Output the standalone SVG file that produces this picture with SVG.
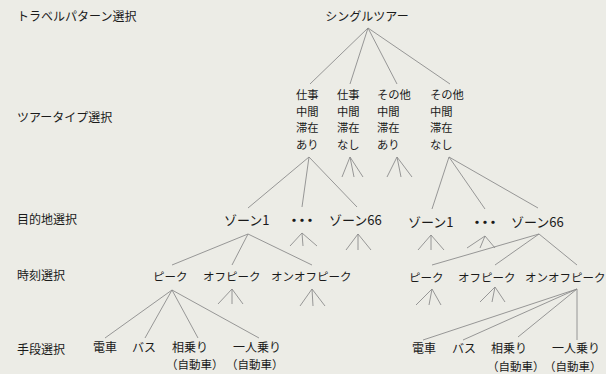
<svg xmlns="http://www.w3.org/2000/svg" width="606" height="374" viewBox="0 0 606 374">
<style>
text{font-family:"Noto Sans CJK JP","Noto Sans",sans-serif;fill:#1a1a1a;font-size:12px}
.z{font-size:13px}
.t{font-size:11.5px}
.tt{font-size:11.3px}
.p{font-size:11.5px}
.dots{font-size:13px;letter-spacing:-5px;font-weight:bold}
#edges line{stroke:#8c8c8c;stroke-width:0.9}
</style>
<rect width="606" height="374" fill="#ececE6"/>
<g id="labels">
<text x="17" y="21">トラベルパターン選択</text>
<text x="17" y="122">ツアータイプ選択</text>
<text x="17" y="224">目的地選択</text>
<text x="17" y="280">時刻選択</text>
<text x="17" y="354">手段選択</text>
</g>
<g id="edges">
<line x1="368" y1="28" x2="310" y2="84"/>
<line x1="368" y1="28" x2="350" y2="84"/>
<line x1="368" y1="28" x2="397" y2="84"/>
<line x1="368" y1="28" x2="450" y2="84"/>
<line x1="309" y1="157" x2="248" y2="208"/>
<line x1="309" y1="157" x2="302" y2="207"/>
<line x1="309" y1="157" x2="357" y2="207"/>
<line x1="350" y1="157" x2="342" y2="177"/>
<line x1="350" y1="157" x2="354" y2="177"/>
<line x1="350" y1="157" x2="363" y2="177"/>
<line x1="397" y1="157" x2="387" y2="177"/>
<line x1="397" y1="157" x2="401" y2="177"/>
<line x1="397" y1="157" x2="412" y2="177"/>
<line x1="449" y1="157" x2="432" y2="209"/>
<line x1="449" y1="157" x2="485" y2="209"/>
<line x1="449" y1="157" x2="538" y2="208"/>
<line x1="248" y1="234" x2="172" y2="265"/>
<line x1="248" y1="234" x2="232" y2="265"/>
<line x1="248" y1="234" x2="312" y2="265"/>
<line x1="302" y1="233" x2="290" y2="246"/>
<line x1="302" y1="233" x2="303" y2="246"/>
<line x1="302" y1="233" x2="317" y2="246"/>
<line x1="358" y1="234" x2="346" y2="250"/>
<line x1="358" y1="234" x2="358" y2="250"/>
<line x1="358" y1="234" x2="371" y2="250"/>
<line x1="431" y1="235" x2="418" y2="250"/>
<line x1="431" y1="235" x2="431" y2="250"/>
<line x1="431" y1="235" x2="444" y2="250"/>
<line x1="485" y1="236" x2="467" y2="248"/>
<line x1="485" y1="236" x2="480" y2="248"/>
<line x1="485" y1="236" x2="495" y2="248"/>
<line x1="539" y1="234" x2="432" y2="265"/>
<line x1="539" y1="234" x2="495" y2="265"/>
<line x1="539" y1="234" x2="577" y2="265"/>
<line x1="172" y1="290" x2="105" y2="338"/>
<line x1="172" y1="290" x2="145" y2="338"/>
<line x1="172" y1="290" x2="198" y2="338"/>
<line x1="172" y1="290" x2="259" y2="338"/>
<line x1="232" y1="289" x2="218" y2="304"/>
<line x1="232" y1="289" x2="232" y2="304"/>
<line x1="232" y1="289" x2="243" y2="304"/>
<line x1="312" y1="289" x2="300" y2="306"/>
<line x1="312" y1="289" x2="313" y2="306"/>
<line x1="312" y1="289" x2="325" y2="306"/>
<line x1="432" y1="289" x2="416" y2="305"/>
<line x1="432" y1="289" x2="429" y2="305"/>
<line x1="432" y1="289" x2="441" y2="305"/>
<line x1="495" y1="287" x2="480" y2="302"/>
<line x1="495" y1="287" x2="492" y2="302"/>
<line x1="495" y1="287" x2="505" y2="302"/>
<line x1="577" y1="289" x2="423" y2="340"/>
<line x1="577" y1="289" x2="463" y2="340"/>
<line x1="577" y1="289" x2="518" y2="337"/>
<line x1="577" y1="289" x2="577" y2="340"/>
</g>
<g id="root"><text x="367" y="21" text-anchor="middle">シングルツアー</text></g>
<g id="tt1"><text class="tt" x="296" y="99">仕事</text><text class="tt" x="296" y="115.5">中間</text><text class="tt" x="296" y="132">滞在</text><text class="tt" x="296" y="148.5">あり</text></g>
<g id="tt2"><text class="tt" x="337" y="99">仕事</text><text class="tt" x="337" y="115.5">中間</text><text class="tt" x="337" y="132">滞在</text><text class="tt" x="337" y="148.5">なし</text></g>
<g id="tt3"><text class="tt" x="377" y="99">その他</text><text class="tt" x="377" y="115.5">中間</text><text class="tt" x="377" y="132">滞在</text><text class="tt" x="377" y="148.5">あり</text></g>
<g id="tt4"><text class="tt" x="430" y="99">その他</text><text class="tt" x="430" y="115.5">中間</text><text class="tt" x="430" y="132">滞在</text><text class="tt" x="430" y="148.5">なし</text></g>
<g id="zL1"><text class="z" x="224" y="225">ゾーン1</text></g>
<g id="zLd"><text class="dots" x="287.5" y="225">・・・</text></g>
<g id="zL66"><text class="z" x="329" y="225">ゾーン66</text></g>
<g id="zR1"><text class="z" x="408" y="227">ゾーン1</text></g>
<g id="zRd"><text class="dots" x="470.5" y="227">・・・</text></g>
<g id="zR66"><text class="z" x="511" y="227">ゾーン66</text></g>
<g id="tL1"><text class="t" x="153" y="281">ピーク</text></g>
<g id="tL2"><text class="t" x="203" y="281">オフピーク</text></g>
<g id="tL3"><text class="t" x="271" y="281">オンオフピーク</text></g>
<g id="tR1"><text class="t" x="409" y="282">ピーク</text></g>
<g id="tR2"><text class="t" x="458" y="282">オフピーク</text></g>
<g id="tR3"><text class="t" x="525" y="282">オンオフピーク</text></g>
<g id="mL1"><text x="93" y="352">電車</text></g>
<g id="mL2"><text x="132" y="352">バス</text></g>
<g id="mL3"><text x="172" y="352">相乗り</text><text class="p" x="166" y="369">（自動車）</text></g>
<g id="mL4"><text x="233" y="352">一人乗り</text><text class="p" x="226" y="369">（自動車）</text></g>
<g id="mR1"><text x="412" y="353">電車</text></g>
<g id="mR2"><text x="452" y="353">バス</text></g>
<g id="mR3"><text x="491" y="353">相乗り</text><text class="p" x="487" y="370.5">（自動車）</text></g>
<g id="mR4"><text x="552" y="353">一人乗り</text><text class="p" x="544" y="370.5">（自動車）</text></g>
</svg>
